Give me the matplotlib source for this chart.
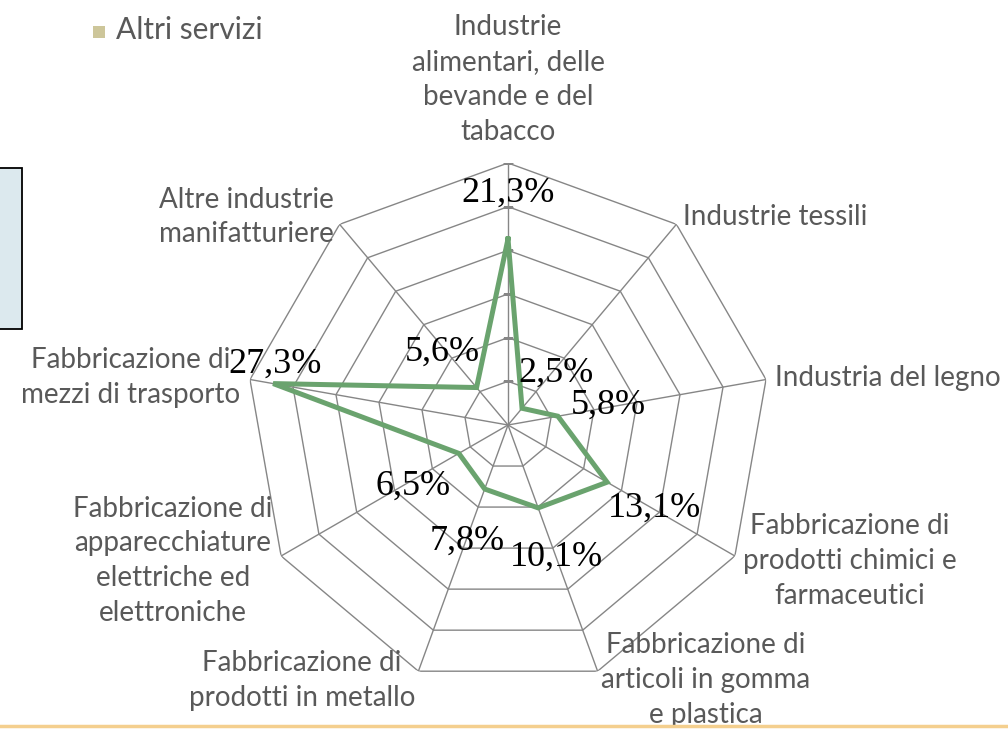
import numpy as np
import matplotlib.pyplot as plt
from matplotlib.patches import Rectangle
from matplotlib.lines import Line2D

# data
categories = [
    "Industrie\nalimentari, delle\nbevande e del\ntabacco",
    "Industrie tessili",
    "Industria del legno",
    "Fabbricazione di\nprodotti chimici e\nfarmaceutici",
    "Fabbricazione di\narticoli in gomma\ne plastica",
    "Fabbricazione di\nprodotti in metallo",
    "Fabbricazione di\napparecchiature\nelettriche ed\nelettroniche",
    "Fabbricazione di\nmezzi di trasporto",
    "Altre industrie\nmanifatturiere",
]
values = [21.3, 2.5, 5.8, 13.1, 10.1, 7.8, 6.5, 27.3, 5.6]
value_labels = ["21,3%", "2,5%", "5,8%", "13,1%", "10,1%", "7,8%", "6,5%", "27,3%", "5,6%"]
rings = [5, 10, 15, 20, 25, 30]
legend_label = "Altri servizi"

# label offsets in pixels (layout only)
label_offsets = [(0, 46), (34, 35), (50, 11), (47, -26), (18, -49),
                 (-18, -52), (-46, -33), (2, 19), (-34, 35)]

W, H = 1008, 729
fig = plt.figure(figsize=(W / 100, H / 100), dpi=100)

# plot area: centre (508, 425), radius 262 px
cx, cy, R = 508, 425, 262
ax = fig.add_axes([(cx - R) / W, (H - cy - R) / H, 2 * R / W, 2 * R / H], polar=True)
ax.set_theta_zero_location("N")
ax.set_theta_direction(-1)
ax.set_ylim(0, rings[-1])
ax.grid(False)
ax.spines["polar"].set_visible(False)
ax.set_xticks([])
ax.set_yticks([])
ax.patch.set_alpha(0)

n = len(categories)
theta = np.linspace(0, 2 * np.pi, n, endpoint=False)
theta_c = np.append(theta, theta[0])

grid_col = "#868686"
# polygon rings
for r in rings:
    ax.plot(theta_c, [r] * (n + 1), color=grid_col, lw=1.0, zorder=1)
# spokes
for t in theta:
    ax.plot([t, t], [0, rings[-1]], color=grid_col, lw=1.0, zorder=1)
# tick marks on the vertical axis
ax.plot([0] * len(rings), rings, ls="none", marker="_", ms=7, mew=1.0,
        color=grid_col, zorder=1)

# series
vals_c = np.append(values, values[0])
ax.plot(theta_c, vals_c, color="#6aa36e", lw=3.6, solid_joinstyle="miter", zorder=3)

# data labels
for t, v, lab, off in zip(theta, values, value_labels, label_offsets):
    ax.annotate(lab, xy=(t, v), xytext=off, textcoords="offset pixels",
                ha="center", va="center", fontsize=26,
                family="Liberation Serif", color="black", zorder=4)

# category labels
for i, (t, cat) in enumerate(zip(theta, categories)):
    s = np.sin(t)
    if i == 0:
        ax.text(t, 32.1, cat, ha="center", va="bottom", ma="center",
                fontsize=20, family="Lato", color="#595959", linespacing=1.42)
        continue
    ha = "left" if s > 0.05 else "right"
    ax.text(t, 31.1, cat, ha=ha, va="center", ma="center",
            fontsize=20, family="Lato", color="#595959", linespacing=1.42)

# legend entry at the top
fig.patches.append(Rectangle((93 / W, 1 - 38 / H), 12 / W, 12 / H,
                             transform=fig.transFigure, facecolor="#cdc69a",
                             edgecolor="none"))
fig.text(116 / W, 1 - 30 / H, legend_label, ha="left", va="center",
         fontsize=21.5, family="Lato", color="#595959")

# box cut at the left edge
fig.patches.append(Rectangle((-5 / W, 1 - 329 / H), 27 / W, 161 / H,
                             transform=fig.transFigure, facecolor="#dce9ee",
                             edgecolor="black", lw=1.3))

# orange rule at the bottom
fig.lines.append(Line2D([0, 1], [1 - 726 / H] * 2, transform=fig.transFigure,
                        color="#f4cf8e", lw=2.5))

fig.savefig("out.png", dpi=100)
